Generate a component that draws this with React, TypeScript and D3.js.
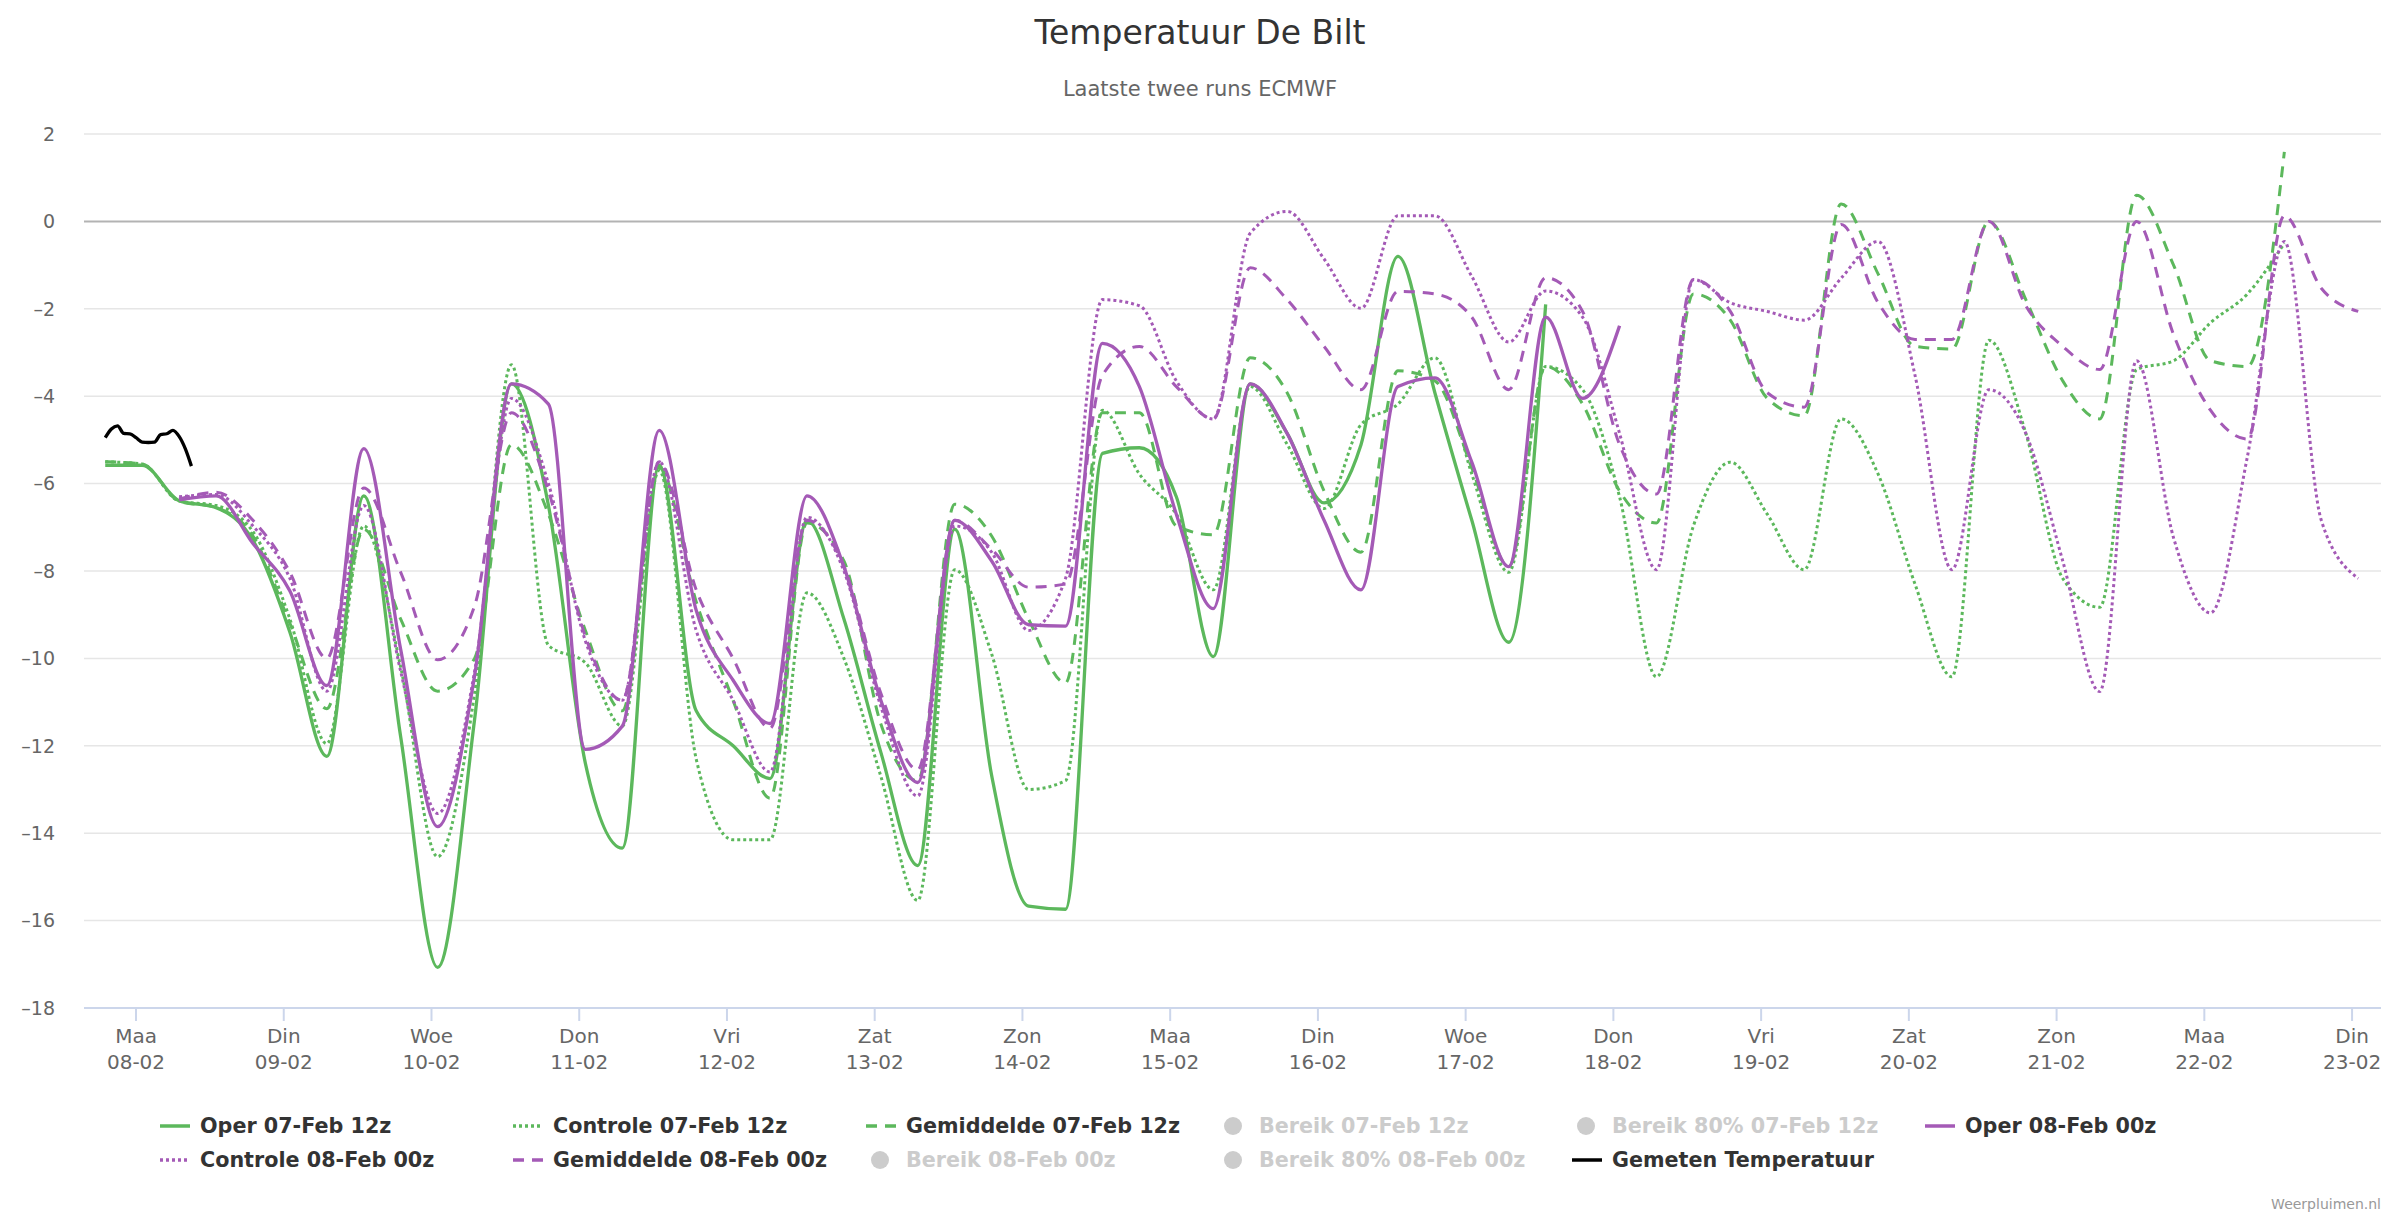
import React from 'react';
import * as d3 from 'd3';

// Hours relative to the "Maa 08-02" tick; model runs are 6-hourly.
const runStep = 6;
const start07 = -5;
const start08 = 7;

const oper07 = [
  -5.58, -5.58, -6.39, -6.55, -7.3, -9.4, -12.24, -6.28, -11.8, -17.07,
  -11.4, -3.72, -6.5, -12.4, -14.34, -5.58, -11.2, -12.0, -12.75, -6.84,
  -9.1, -12.15, -14.74, -7.04, -12.68, -15.67, -15.74, -5.31, -5.18, -6.3,
  -9.96, -3.72, -4.85, -6.44, -5.11, -0.8, -3.92, -6.84, -9.63, -1.9
];

const controle07 = [
  -5.5, -5.55, -6.4, -6.5, -7.1, -9.1, -11.95, -6.97, -10.2, -14.54,
  -10.8, -3.28, -9.7, -10.1, -11.55, -5.7, -12.3, -14.15, -14.15, -8.5,
  -10.0, -12.7, -15.54, -7.97, -9.9, -13.0, -12.8, -4.32, -5.78, -6.7,
  -8.43, -3.78, -5.1, -6.57, -4.65, -4.18, -3.12, -5.78, -8.03, -3.32,
  -3.85, -6.3, -10.42, -6.97, -5.51, -6.7, -7.97, -4.52, -5.78, -8.3,
  -10.42, -2.72, -4.85, -8.17, -8.83, -3.39, -3.19, -2.32, -1.66, -0.5
];

const gemiddelde07 = [
  -5.5, -5.55, -6.4, -6.55, -7.2, -9.2, -11.15, -7.05, -9.1, -10.75,
  -10.0, -5.11, -6.7, -9.36, -11.2, -5.64, -8.7, -10.96, -13.2, -6.9,
  -7.77, -11.5, -12.8, -6.47, -7.2, -9.1, -10.56, -4.38, -4.38, -6.97,
  -7.17, -3.12, -3.92, -6.17, -7.57, -3.42, -3.65, -5.64, -7.9, -3.32,
  -4.18, -6.17, -6.9, -1.66, -2.26, -4.05, -4.45, 0.4, -1.2, -2.86,
  -2.92, 0, -1.79, -3.65, -4.52, 0.6, -1.0, -3.19, -3.32, 1.59
];

const oper08 = [
  -6.37, -6.28, -7.37, -8.46, -10.62, -5.2, -9.8, -13.85, -10.4, -3.72,
  -4.18, -12.08, -11.55, -4.78, -8.9, -10.5, -11.49, -6.28, -7.9, -10.96,
  -12.84, -6.84, -7.77, -9.23, -9.26, -2.79, -3.78, -6.7, -8.86, -3.72,
  -4.85, -6.84, -8.43, -3.78, -3.58, -5.51, -7.9, -2.19, -4.05, -2.39
];

const controle08 = [
  -6.3, -6.25, -6.97, -8.17, -10.75, -6.5, -10.3, -13.55, -10.3, -4.05,
  -6.0, -9.6, -10.96, -5.5, -9.36, -10.96, -12.6, -6.77, -8.0, -11.1,
  -13.15, -6.97, -7.57, -9.36, -8.17, -1.79, -1.93, -3.65, -4.52, -0.27,
  0.23, -0.86, -1.99, 0.13, 0.13, -1.26, -2.76, -1.59, -2.19, -4.85,
  -7.97, -1.33, -1.86, -2.06, -2.26, -1.3, -0.46, -3.52, -7.97, -3.85,
  -4.85, -7.77, -10.76, -3.19, -7.24, -8.96, -5.38, -0.46, -6.84, -8.17
];

const gemiddelde08 = [
  -6.35, -6.2, -6.84, -8.03, -10.0, -6.1, -8.03, -10.03, -8.8, -4.38,
  -6.17, -9.5, -10.96, -5.5, -8.43, -10.0, -11.6, -6.84, -7.9, -10.8,
  -12.55, -6.84, -7.5, -8.37, -8.3, -3.52, -2.86, -3.78, -4.52, -1.06,
  -1.79, -2.86, -3.85, -1.6, -1.66, -2.19, -3.85, -1.29, -2.06, -5.11,
  -6.24, -1.33, -2.06, -3.92, -4.25, -0.07, -1.86, -2.7, -2.7, 0,
  -1.93, -2.86, -3.39, 0, -2.59, -4.32, -4.98, 0.13, -1.53, -2.06
];

// hourly observations
const gemetenHours = [-5, -4, -3, -2, -1, 0, 1, 2, 3, 4, 5, 6, 7, 8, 9];
const gemeten = [
  -4.95, -4.75, -4.68, -4.85, -4.86, -4.95, -5.05, -5.06, -5.05, -4.88,
  -4.86, -4.78, -4.92, -5.2, -5.6
];

const dayNames = ['Maa', 'Din', 'Woe', 'Don', 'Vri', 'Zat', 'Zon', 'Maa',
  'Din', 'Woe', 'Don', 'Vri', 'Zat', 'Zon', 'Maa', 'Din'];
const dayDates = ['08-02', '09-02', '10-02', '11-02', '12-02', '13-02', '14-02', '15-02',
  '16-02', '17-02', '18-02', '19-02', '20-02', '21-02', '22-02', '23-02'];
const yTicks = [-18, -16, -14, -12, -10, -8, -6, -4, -2, 0, 2];

const GREEN = '#5cb85c';
const PURPLE = '#a45ab6';
const FONT = '"DejaVu Sans", sans-serif';

const DOT = '3,3';
const DASH = '11,8';

interface SeriesDef {
  name: string;
  color: string;
  dash: string | null;
  width: number;
  hours: number[];
  values: number[];
}

const toHours = (start: number, values: number[]) => values.map((_, i) => start + runStep * i);

const series: SeriesDef[] = [
  { name: 'Oper 07-Feb 12z', color: GREEN, dash: null, width: 3.3, hours: toHours(start07, oper07), values: oper07 },
  { name: 'Controle 07-Feb 12z', color: GREEN, dash: DOT, width: 3, hours: toHours(start07, controle07), values: controle07 },
  { name: 'Gemiddelde 07-Feb 12z', color: GREEN, dash: DASH, width: 3, hours: toHours(start07, gemiddelde07), values: gemiddelde07 },
  { name: 'Oper 08-Feb 00z', color: PURPLE, dash: null, width: 3.3, hours: toHours(start08, oper08), values: oper08 },
  { name: 'Controle 08-Feb 00z', color: PURPLE, dash: DOT, width: 3, hours: toHours(start08, controle08), values: controle08 },
  { name: 'Gemiddelde 08-Feb 00z', color: PURPLE, dash: DASH, width: 3, hours: toHours(start08, gemiddelde08), values: gemiddelde08 },
  { name: 'Gemeten Temperatuur', color: '#000000', dash: null, width: 3.3, hours: gemetenHours, values: gemeten }
];

// legend in reading order, 6 per row; hidden ones are the range series
const legendItems = [
  { name: 'Oper 07-Feb 12z', color: GREEN, dash: null, hidden: false },
  { name: 'Controle 07-Feb 12z', color: GREEN, dash: DOT, hidden: false },
  { name: 'Gemiddelde 07-Feb 12z', color: GREEN, dash: DASH, hidden: false },
  { name: 'Bereik 07-Feb 12z', color: '#cccccc', dash: null, hidden: true },
  { name: 'Bereik 80% 07-Feb 12z', color: '#cccccc', dash: null, hidden: true },
  { name: 'Oper 08-Feb 00z', color: PURPLE, dash: null, hidden: false },
  { name: 'Controle 08-Feb 00z', color: PURPLE, dash: DOT, hidden: false },
  { name: 'Gemiddelde 08-Feb 00z', color: PURPLE, dash: DASH, hidden: false },
  { name: 'Bereik 08-Feb 00z', color: '#cccccc', dash: null, hidden: true },
  { name: 'Bereik 80% 08-Feb 00z', color: '#cccccc', dash: null, hidden: true },
  { name: 'Gemeten Temperatuur', color: '#000000', dash: null, hidden: false }
];

const width = 2400;
const height = 1219;
const plot = { left: 84, right: 2381, top: 134, bottom: 1008 };

const TemperatureChart: React.FC = () => {
  const svgRef = React.useRef<SVGSVGElement>(null);

  React.useEffect(() => {
    if (!svgRef.current) return;
    const svg = d3.select(svgRef.current);
    svg.selectAll('*').remove();

    const x = d3.scaleLinear().domain([-8.45, 364.7]).range([plot.left, plot.right]);
    const y = d3.scaleLinear().domain([-18, 2]).range([plot.bottom, plot.top]);

    svg.append('rect').attr('width', width).attr('height', height).attr('fill', '#ffffff');

    // titles
    svg.append('text')
      .attr('x', width / 2).attr('y', 44)
      .attr('text-anchor', 'middle')
      .attr('font-size', 33).attr('fill', '#333333')
      .text('Temperatuur De Bilt');
    svg.append('text')
      .attr('x', width / 2).attr('y', 96)
      .attr('text-anchor', 'middle')
      .attr('font-size', 21).attr('fill', '#666666')
      .text('Laatste twee runs ECMWF');

    // grid + y labels
    const grid = svg.append('g');
    yTicks.forEach(v => {
      if (v !== -18) {
        grid.append('line')
          .attr('x1', plot.left).attr('x2', plot.right)
          .attr('y1', y(v)).attr('y2', y(v))
          .attr('stroke', v === 0 ? '#b3b3b3' : '#e6e6e6')
          .attr('stroke-width', v === 0 ? 2 : 1.5);
      }
      grid.append('text')
        .attr('x', 55).attr('y', y(v))
        .attr('dy', '0.36em')
        .attr('text-anchor', 'end')
        .attr('font-size', 19).attr('fill', '#666666')
        .text(v < 0 ? '\u2013' + Math.abs(v) : String(v));
    });

    // x axis
    const ax = svg.append('g');
    ax.append('line')
      .attr('x1', plot.left).attr('x2', plot.right)
      .attr('y1', plot.bottom).attr('y2', plot.bottom)
      .attr('stroke', '#ccd6eb').attr('stroke-width', 2);
    dayNames.forEach((d, i) => {
      const px = x(i * 24);
      ax.append('line')
        .attr('x1', px).attr('x2', px)
        .attr('y1', plot.bottom).attr('y2', plot.bottom + 13)
        .attr('stroke', '#ccd6eb').attr('stroke-width', 2);
      ax.append('text')
        .attr('x', px).attr('y', 1043)
        .attr('text-anchor', 'middle')
        .attr('font-size', 20).attr('fill', '#666666')
        .text(d);
      ax.append('text')
        .attr('x', px).attr('y', 1069)
        .attr('text-anchor', 'middle')
        .attr('font-size', 20).attr('fill', '#666666')
        .text(dayDates[i]);
    });

    // series
    const line = d3.line<[number, number]>()
      .x(d => x(d[0]))
      .y(d => y(d[1]))
      .curve(d3.curveMonotoneX);

    series.forEach(s => {
      const pts = s.values.map((v, i) => [s.hours[i], v] as [number, number]);
      svg.append('path')
        .datum(pts)
        .attr('fill', 'none')
        .attr('stroke', s.color)
        .attr('stroke-width', s.width)
        .attr('stroke-dasharray', s.dash)
        .attr('stroke-linejoin', 'round')
        .attr('d', line);
    });

    // legend
    const lg = svg.append('g');
    const colX = 160;
    const colW = 353;
    const rowY = [1126, 1160];
    legendItems.forEach((item, i) => {
      const lx = colX + (i % 6) * colW;
      const ly = rowY[Math.floor(i / 6)];
      if (item.hidden) {
        lg.append('circle')
          .attr('cx', lx + 14).attr('cy', ly)
          .attr('r', 9).attr('fill', '#cccccc');
      } else {
        lg.append('line')
          .attr('x1', lx).attr('x2', lx + 30)
          .attr('y1', ly).attr('y2', ly)
          .attr('stroke', item.color)
          .attr('stroke-width', 3.5)
          .attr('stroke-dasharray', item.dash);
      }
      lg.append('text')
        .attr('x', lx + 40).attr('y', ly)
        .attr('dy', '0.36em')
        .attr('font-size', 20.7).attr('font-weight', 'bold')
        .attr('fill', item.hidden ? '#cccccc' : '#333333')
        .text(item.name);
    });

    svg.append('text')
      .attr('x', plot.right).attr('y', 1209)
      .attr('text-anchor', 'end')
      .attr('font-size', 14).attr('fill', '#999999')
      .text('Weerpluimen.nl');
  }, []);

  return (
    <svg
      ref={svgRef}
      width={width}
      height={height}
      style={{ position: 'absolute', left: 0, top: 0, fontFamily: FONT }}
    />
  );
};

export default function App() {
  return <TemperatureChart />;
}
